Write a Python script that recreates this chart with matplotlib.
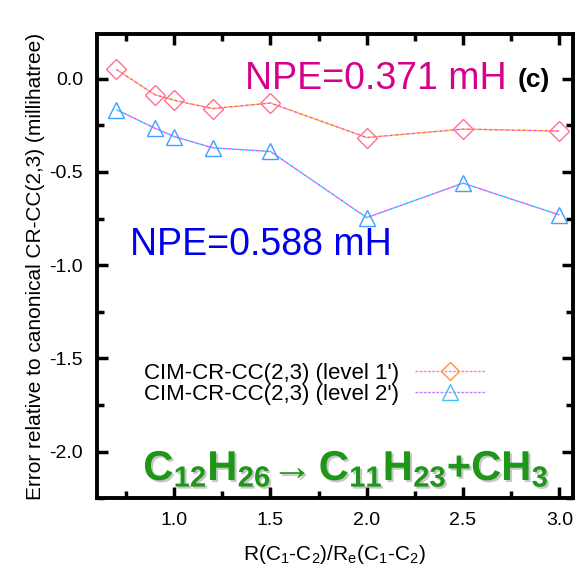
import numpy as np
import matplotlib
matplotlib.use("Agg")
import matplotlib.pyplot as plt
import matplotlib.patheffects as pe
from matplotlib.ticker import MultipleLocator

plt.rcParams['font.family'] = ['Liberation Sans', 'DejaVu Sans']
plt.rcParams['mathtext.fontset'] = 'custom'
plt.rcParams['mathtext.rm'] = 'Liberation Sans'
plt.rcParams['mathtext.bf'] = 'Liberation Sans:bold'
plt.rcParams['mathtext.it'] = 'Liberation Sans:italic'

# data
r_ratio = [0.7, 0.9, 1.0, 1.2, 1.5, 2.0, 2.5, 3.0]
err_level1 = [0.05, -0.085, -0.115, -0.16, -0.13, -0.315, -0.27, -0.28]
err_level2 = [-0.165, -0.265, -0.31, -0.37, -0.39, -0.745, -0.56, -0.73]

label1 = "CIM-CR-CC(2,3) (level 1')"
label2 = "CIM-CR-CC(2,3) (level 2')"

fig = plt.figure(figsize=(5.78, 5.68), dpi=100)
ax = fig.add_axes([0.168, 0.123, 0.823, 0.817])

# level 1': magenta / yellow dotted look
ax.plot(r_ratio, err_level1, color='#ff40c0', lw=1.0, ls=(0, (2, 2)))
ax.plot(r_ratio, err_level1, color='#ffb020', lw=1.0, ls=(2, (2, 2)))
ax.plot(r_ratio, err_level1, ls='none', marker='D', ms=10, mfc='none',
        mec='#ff7090', mew=1.0)

# level 2': cyan / magenta dotted look
ax.plot(r_ratio, err_level2, color='#00e0ff', lw=1.0, ls=(0, (2, 2)))
ax.plot(r_ratio, err_level2, color='#ff40ff', lw=1.0, ls=(2, (2, 2)))
ax.plot(r_ratio, err_level2, ls='none', marker='^', ms=12, mfc='none',
        mec='#40a0ff', mew=1.0)

# legend proxies
h1, = ax.plot([], [], color='#ff80b0', lw=1.0, ls=(0, (2, 1)), marker='D',
              ms=9, mfc='none', mec='#ff9040', mew=1.0)
h2, = ax.plot([], [], color='#c080ff', lw=1.0, ls=(0, (2, 1)), marker='^',
              ms=11, mfc='none', mec='#40c0ff', mew=1.0)
ax.legend([h1, h2], [label1, label2], loc='upper left',
          bbox_to_anchor=(0.099, 0.292), frameon=False, markerfirst=False,
          fontsize=16, handlelength=3.2, labelspacing=0.0,
          handletextpad=0.7, borderpad=0, borderaxespad=0)

ax.set_xlim(0.6, 3.07)
ax.set_ylim(-2.25, 0.24)
ax.xaxis.set_major_locator(MultipleLocator(0.5))
ax.xaxis.set_minor_locator(MultipleLocator(0.25))
ax.yaxis.set_major_locator(MultipleLocator(0.5))
ax.yaxis.set_minor_locator(MultipleLocator(0.25))
ax.xaxis.set_major_formatter(plt.FormatStrFormatter('%.1f'))
ax.yaxis.set_major_formatter(plt.FormatStrFormatter('%.1f'))

ax.tick_params(which='both', direction='in', top=True, right=True,
               width=2.5, labelsize=14, pad=10)
ax.tick_params(which='major', length=8)
ax.tick_params(which='minor', length=5)
for s in ax.spines.values():
    s.set_linewidth(2.8)

ax.set_xlabel(r'R(C$_1$-C$_2$)/R$_\mathrm{e}$(C$_1$-C$_2$)', fontsize=15,
              labelpad=10)
ax.set_ylabel('Error relative to canonical CR-CC(2,3) (millihatree)',
              fontsize=15, labelpad=3)

ax.text(0.861, 0.904, 'NPE=0.371 mH', transform=ax.transAxes,
        fontsize=27, color='#d6008e', ha='right', va='center')
ax.text(0.884, 0.9, '(c)', transform=ax.transAxes, fontsize=19,
        fontweight='bold', color='black', ha='left', va='center')
ax.text(0.069, 0.545, 'NPE=0.588 mH', transform=ax.transAxes,
        fontsize=27, color='#0000ee', ha='left', va='center')

# reaction label with a faint grey shadow
formula = r'$\mathbf{C_{12}H_{26}}$→$\,\mathbf{C_{11}H_{23}{+}CH_3}$'
ax.text(0.097, 0.039, formula, transform=ax.transAxes, fontsize=30,
        color='#1e9618', ha='left', va='baseline',
        path_effects=[pe.SimplePatchShadow(offset=(1.5, -1.5),
                                           shadow_rgbFace='#b0b0b0', alpha=0.7),
                      pe.Normal()])

fig.savefig('out.png', dpi=100)
